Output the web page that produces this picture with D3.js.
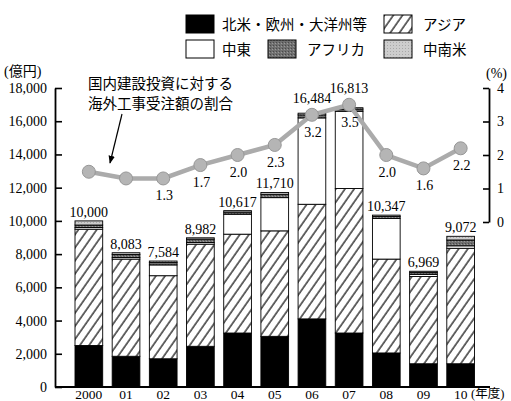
<!DOCTYPE html>
<html><head><meta charset="utf-8">
<script src="https://cdn.jsdelivr.net/npm/d3@7"></script>
<style>
html,body{margin:0;padding:0;background:#fff;}
svg{display:block;}
svg text{font-family:"Liberation Serif","Tinos","Times New Roman","Nimbus Roman","DejaVu Serif",serif,"Noto Sans CJK JP" !important;fill:#000;}
</style></head>
<body>
<svg id="c" width="511" height="401"></svg>
<script>
const years = ["2000","01","02","03","04","05","06","07","08","09","10"];
const northAmEuOce = [2500,1850,1700,2450,3250,3050,4100,3250,2050,1400,1400];
const asia         = [7000,5850,5000,6150,5950,6350,6900,8700,5650,5250,6950];
const middleEast   = [100,100,650,100,1200,2000,5200,4650,2450,130,150];
const africa       = [150,180,150,200,130,200,180,130,120,120,350];
const latinAm      = [250,103,84,82,87,110,104,83,77,69,222];
const totals       = [10000,8083,7584,8982,10617,11710,16484,16813,10347,6969,9072];
const ratio        = [1.5,1.3,1.3,1.7,2.0,2.3,3.2,3.5,2.0,1.6,2.2];
const ratioLabels  = [null,null,"1.3","1.7","2.0","2.3","3.2","3.5","2.0","1.6","2.2"];
const leftTicks  = [0,2000,4000,6000,8000,10000,12000,14000,16000,18000];
const rightTicks = [0,1,2,3,4];
const seriesNames = ["北米・欧州・大洋州等","アジア","中東","アフリカ","中南米"];

const svg = d3.select("#c");
const defs = svg.append("defs");
const hp = defs.append("pattern").attr("id","hatch").attr("patternUnits","userSpaceOnUse")
  .attr("width",7.5).attr("height",10).attr("patternTransform","rotate(35)");
hp.append("rect").attr("width",7.5).attr("height",10).attr("fill","#fff");
hp.append("line").attr("x1",1).attr("x2",1).attr("y1",0).attr("y2",10).attr("stroke","#1a1a1a").attr("stroke-width",1.3);
const dp = defs.append("pattern").attr("id","dark").attr("patternUnits","userSpaceOnUse").attr("width",3).attr("height",3);
dp.append("rect").attr("width",3).attr("height",3).attr("fill","#707070");
dp.append("rect").attr("width",1).attr("height",1).attr("fill","#4a4a4a");
dp.append("rect").attr("x",2).attr("y",1).attr("width",1).attr("height",1).attr("fill","#9a9a9a");
const lp = defs.append("pattern").attr("id","light").attr("patternUnits","userSpaceOnUse").attr("width",3).attr("height",3);
lp.append("rect").attr("width",3).attr("height",3).attr("fill","#cdcdcd");
lp.append("rect").attr("width",1).attr("height",1).attr("fill","#a8a8a8");

const fills = ["#000","url(#hatch)","#fff","url(#dark)","url(#light)"];

const x = d3.scaleBand().domain(years).range([75,474.5]).paddingInner(0.255).paddingOuter(0);
const y = d3.scaleLinear().domain([0,18000]).range([387,88]);
const y2 = d3.scaleLinear().domain([0,4]).range([222,88]);

const rows = years.map((yr,i)=>({year:yr, vals:[northAmEuOce[i],asia[i],middleEast[i],africa[i],latinAm[i]]}));
const stack = d3.stack().keys([0,1,2,3,4]).value((d,k)=>d.vals[k]);
const stacked = stack(rows);

// bars
const g = svg.append("g");
stacked.forEach((layer,k)=>{
  g.selectAll(null).data(layer).enter().append("rect")
    .attr("x",(d)=>x(d.data.year))
    .attr("width",x.bandwidth())
    .attr("y",d=>y(d[1]))
    .attr("height",d=>y(d[0])-y(d[1]))
    .attr("fill",fills[k])
    .attr("stroke","#000").attr("stroke-width",0.9);
});

// axes
const ax = svg.append("g").attr("transform","translate(55,0)")
  .call(d3.axisLeft(y).tickValues(leftTicks).tickFormat(d3.format(",")).tickSizeInner(-7).tickSizeOuter(0).tickPadding(8));
ax.select(".domain").attr("stroke-width",1.8);
ax.selectAll(".tick line").attr("stroke-width",1.6);
ax.selectAll("text").attr("font-size",14);

const ar = svg.append("g").attr("transform","translate(489,0)")
  .call(d3.axisRight(y2).tickValues(rightTicks).tickFormat(d3.format("d")).tickSizeInner(-6).tickSizeOuter(0).tickPadding(8));
ar.select(".domain").attr("stroke-width",1.8);
ar.selectAll(".tick line").attr("stroke-width",1.6);
ar.selectAll("text").attr("font-size",14);

svg.append("line").attr("x1",55).attr("x2",490).attr("y1",387).attr("y2",387).attr("stroke","#000").attr("stroke-width",1.8);
const axb = svg.append("g").attr("transform","translate(0,387)")
  .call(d3.axisBottom(x).tickSize(0).tickPadding(2));
axb.select(".domain").remove();
axb.selectAll("text").attr("font-size",13.5);

svg.append("text").attr("x",4).attr("y",76).attr("font-size",14).text("(億円)");
svg.append("text").attr("x",486).attr("y",78).attr("font-size",14).text("(%)");
svg.append("text").attr("x",471).attr("y",398).attr("font-size",12.5).text("(年度)");

// line
const cx = d=>x(d)+x.bandwidth()/2;
const linePts = years.map((yr,i)=>[cx(yr),y2(ratio[i])]);
svg.append("path").attr("d",d3.line()(linePts)).attr("fill","none").attr("stroke","#ababab").attr("stroke-width",4.5);
svg.selectAll(null).data(linePts).enter().append("circle")
  .attr("cx",d=>d[0]).attr("cy",d=>d[1]).attr("r",6.5)
  .attr("fill","#b5b5b5").attr("stroke","#979797").attr("stroke-width",1);

// ratio labels
svg.selectAll(null).data(years).enter().append("text")
  .attr("x",(d)=>cx(d)+1).attr("y",(d,i)=>y2(ratio[i])+22)
  .attr("text-anchor","middle").attr("font-size",14)
  .text((d,i)=>ratioLabels[i]||"");

// total labels
svg.selectAll(null).data(years).enter().append("text")
  .attr("x",d=>cx(d)).attr("text-anchor","middle").attr("font-size",14)
  .attr("y",(d,i)=>{
    const top = y(totals[i]);
    const py = y2(ratio[i]);
    const base = top-4;
    if (py + 8 > base - 13) return Math.min(base, py-12);
    return base;
  })
  .text((d,i)=>d3.format(",")(totals[i]));

// annotation
svg.append("text").attr("x",88).attr("y",89).attr("font-size",14.5).text("国内建設投資に対する");
svg.append("text").attr("x",88).attr("y",109).attr("font-size",14.5).text("海外工事受注額の割合");
defs.append("marker").attr("id","ah").attr("viewBox","0 0 10 10").attr("refX",9).attr("refY",5)
  .attr("markerWidth",8).attr("markerHeight",8).attr("orient","auto").attr("markerUnits","userSpaceOnUse")
  .append("path").attr("d","M0,1 L10,5 L0,9 Z").attr("fill","#000");
svg.append("line").attr("x1",122).attr("y1",114).attr("x2",110).attr("y2",163)
  .attr("stroke","#000").attr("stroke-width",1.2).attr("marker-end","url(#ah)");

// legend
const legend = [
  {i:0,x:186,y:15,tx:222},
  {i:1,x:384,y:15,tx:423},
  {i:2,x:186,y:40,tx:222},
  {i:3,x:268,y:40,tx:307},
  {i:4,x:384,y:40,tx:423}
];
legend.forEach(l=>{
  svg.append("rect").attr("x",l.x).attr("y",l.y).attr("width",28).attr("height",18)
    .attr("fill",fills[l.i]).attr("stroke","#000").attr("stroke-width",1);
  svg.append("text").attr("x",l.tx).attr("y",l.y+14.5).attr("font-size",14.5).text(seriesNames[l.i]);
});
</script>
</body></html>
